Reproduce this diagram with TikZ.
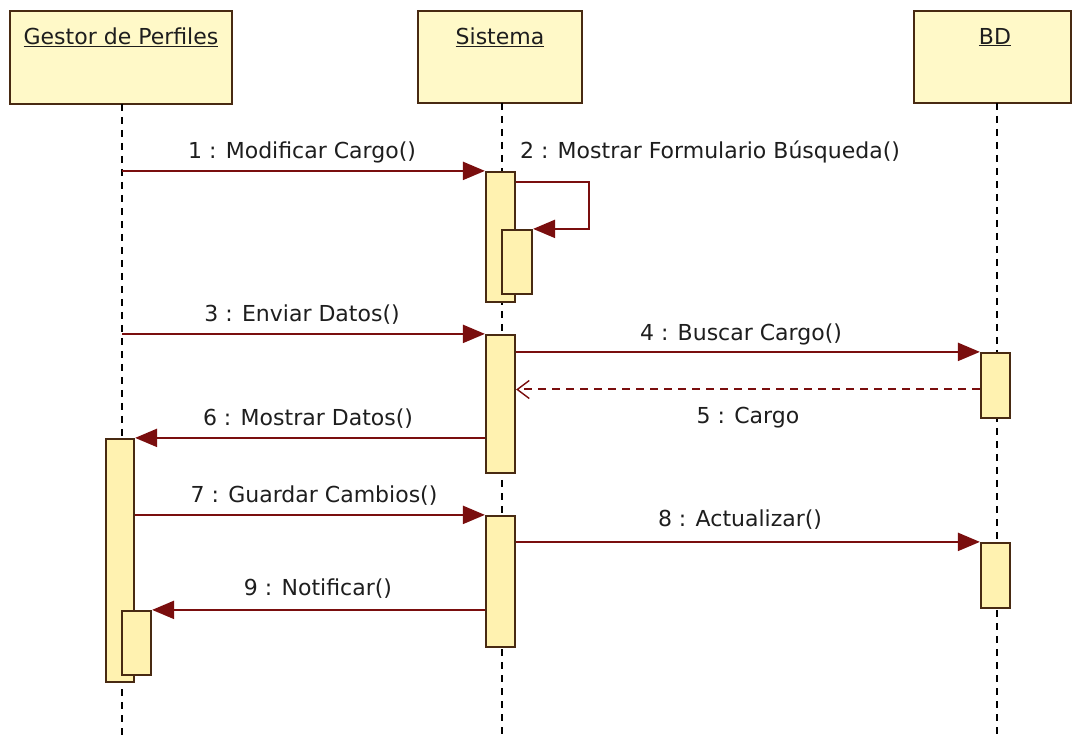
\documentclass[tikz,border=0pt]{standalone}
\usepackage{fontspec}
\setmainfont{DejaVu Sans}
\usetikzlibrary{arrows.meta}
\definecolor{hdrfill}{RGB}{255,249,200}
\definecolor{actfill}{RGB}{255,242,176}
\definecolor{bordc}{RGB}{72,42,18}
\definecolor{msgc}{RGB}{122,14,14}
\definecolor{txtc}{RGB}{30,30,30}
\tikzset{
  hdr/.style={draw=bordc, fill=hdrfill, line width=2.4pt, inner sep=0pt},
  hdrtxt/.style={anchor=north, inner sep=0pt, text=txtc, font=\fontsize{22}{26}\selectfont},
  act/.style={draw=bordc, fill=actfill, line width=2.2pt, inner sep=0pt, minimum width=29pt},
  life/.style={black, line width=2.4pt, dash pattern=on 7pt off 6pt},
  msg/.style={msgc, line width=2.2pt, -{Triangle[length=22pt,width=18pt]}},
  ret/.style={msgc, line width=2pt, dash pattern=on 8pt off 6pt, -{Straight Barb[length=12pt,width=18pt,line width=1.4pt]}},
  lbl/.style={text=txtc, inner sep=0pt, font=\fontsize{22}{26}\selectfont}
}
\begin{document}
\begin{tikzpicture}[x=1pt,y=-1pt]
\useasboundingbox (0,0) rectangle (1072,735);
\fill[white] (0,0) rectangle (1072,735);
% headers
\node[hdr, minimum width=222pt, minimum height=93pt] (gestor) at (121,57.5) {};
\node[hdr, minimum width=164pt, minimum height=92pt] (sistema) at (500,57) {};
\node[hdr, minimum width=157pt, minimum height=92pt] (bd) at (992.5,57) {};
\node[hdrtxt] (gestortxt) at (121,28) {\underline{Gestor de Perfiles}};
\node[hdrtxt] (sistematxt) at (500,28) {\underline{Sistema}};
\node[hdrtxt] (bdtxt) at (995,28) {\underline{BD}};
% lifelines
\coordinate (gtop) at (122,104);
\coordinate (gbot) at (122,735);
\coordinate (stop) at (502,103);
\coordinate (sbot) at (502,735);
\coordinate (btop) at (997,103);
\coordinate (bbot) at (997,735);
\draw[life] (gtop) -- (gbot);
\draw[life] (stop) -- (sbot);
\draw[life] (btop) -- (bbot);
% activations
\node[act, minimum width=28pt, minimum height=243pt] (gA) at (120,560.5) {};
\node[act, minimum height=64pt] (gB) at (136.5,643) {};
\node[act, minimum height=130pt] (sA) at (500.5,237) {};
\node[act, minimum width=30pt, minimum height=64pt] (sB) at (517,262) {};
\node[act, minimum height=138pt] (sC) at (500.5,404) {};
\node[act, minimum height=131pt] (sD) at (500.5,581.5) {};
\node[act, minimum height=65pt] (bA) at (995.5,385.5) {};
\node[act, minimum height=65pt] (bB) at (995.5,575.5) {};
% messages
\draw[msg] (gtop |- sA.north west) -- (sA.north west);
\node[lbl] (m1) at (302,152) {1 : Modificar Cargo()};
\coordinate (loop) at (589,182);
\draw[msg] (sA.east |- loop) -- (loop) |- (sB.north east);
\node[lbl] (m2) at (710,152) {2 : Mostrar Formulario Búsqueda()};
\draw[msg] (gtop |- sC.north west) -- (sC.north west);
\node[lbl] (m3) at (302,315) {3 : Enviar Datos()};
\draw[msg] (sC.east |- bA.north west) -- (bA.north west);
\node[lbl] (m4) at (741,334) {4 : Buscar Cargo()};
\coordinate (ret5) at (997,389.5);
\draw[ret] (bA.west |- ret5) -- (sC.east |- ret5);
\node[lbl] (m5) at (748,418) {5 : Cargo};
\draw[msg] (sC.west |- gA.north east) -- (gA.north east);
\node[lbl] (m6) at (308,419) {6 : Mostrar Datos()};
\draw[msg] (gA.east |- sD.north west) -- (sD.north west);
\node[lbl] (m7) at (314,496) {7 : Guardar Cambios()};
\draw[msg] (sD.east |- bB.north west) -- (bB.north west);
\node[lbl] (m8) at (740,520) {8 : Actualizar()};
\draw[msg] (sD.west |- gB.north east) -- (gB.north east);
\node[lbl] (m9) at (318,589) {9 : Notificar()};
\end{tikzpicture}
\end{document}
